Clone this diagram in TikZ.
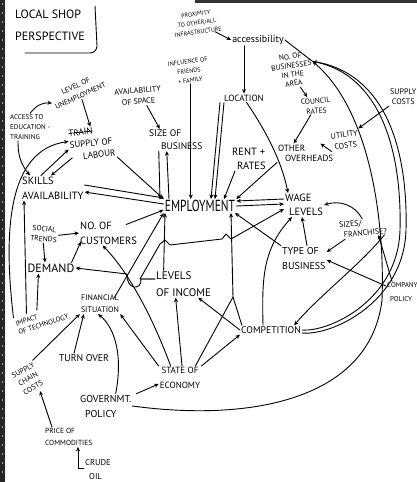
\documentclass[tikz,border=0pt]{standalone}
\usepackage{fontspec}
\setmainfont{PT Sans}
\newfontfamily\narrowfont{PT Sans}[FakeStretch=0.72]
\usetikzlibrary{arrows.meta,calc}

\newlength\strikelen
\newcommand\strikeword[1]{\settowidth{\strikelen}{#1}\rlap{\rule[0.3em]{\strikelen}{0.7pt}}#1}

\begin{document}
\begin{tikzpicture}[x=1pt, y=-1pt,
    lbl/.style={inner sep=1pt, align=center},
    fs/.style 2 args={font=\fontsize{#1}{#2}\selectfont},
    ln/.style={line width=0.9pt, line cap=round, line join=round},
    arr/.style={ln, -{Stealth[length=4.5pt,width=4pt]}}]

    \useasboundingbox (0,0) rectangle (417,482);
    \fill[white] (0,0) rectangle (417,482);

    % Edges of the scanned sheet
    \fill[black!85] (0,0) rectangle (5,482);
    \foreach \y in {4,13,...,472} \fill[white] (2.5,\y) circle (0.7);
    \fill[black!80] (195,0) rectangle (417,2.5);

    % Title
    \node[lbl, fs={12}{22}, align=left, anchor=west] (title) at (14,25) {LOCAL SHOP\\PERSPECTIVE};
    \draw[ln] (95,6) -- (97,46) to[out=-90,in=0] (90,53) -- (25,53);

    % Factors
    \node[lbl, fs={6}{9}, rotate=8] (prox) at (197,23) {PROXIMITY\\TO OTHER/ALL\\INFRASTRUCTURE};
    \node[lbl, fs={10}{12}] (access) at (258,40) {accessibility};
    \node[lbl, fs={6.2}{9.5}, rotate=8] (infl) at (189,71) {INFLUENCE OF\\FRIENDS\\+ FAMILY};
    \node[lbl, fs={8}{11}, rotate=5] (space) at (138,96) {AVAILABILITY\\OF SPACE};
    \node[lbl, fs={7.4}{11}, rotate=25] (unemp) at (78,91) {LEVEL OF\\UNEMPLOYMENT};
    \node[lbl, fs={7}{10}, align=left, anchor=west] (edu) at (9,127) {ACCESS TO\\EDUCATION -\\TRAINING};
    \node[lbl, fs={9}{12}, align=left, rotate=6] (labour) at (92,143) {\strikeword{TRAIN}\\SUPPLY OF\\\hspace*{12pt}LABOUR};
    \node[lbl, fs={9.5}{13}, align=left, anchor=west] (size) at (148,140) {SIZE OF\\\hspace*{12pt}BUSINESS};
    \node[lbl, fs={9}{12}] (location) at (244,98) {LOCATION};
    \node[lbl, fs={7.5}{9}, rotate=8] (nobus) at (292,70) {NO. OF\\BUSINESSES\\IN THE\\AREA};
    \node[lbl, fs={7.5}{10}, rotate=5] (council) at (316,106) {COUNCIL\\RATES};
    \node[lbl, fs={8}{10}, anchor=west] (supcost) at (389,97) {SUPPLY\\COSTS};
    \node[lbl, fs={8}{11}, rotate=8] (utility) at (345,140) {UTILITY\\COSTS};
    \node[lbl, fs={10.5}{14}, align=left, anchor=west] (rent) at (231,159) {RENT +\\\hspace*{5pt}RATES};
    \node[lbl, fs={9}{10}, align=left, anchor=west] (over) at (277,153) {OTHER\\\hspace*{7pt}OVERHEADS};
    \node[lbl, fs={10.5}{15}, align=left, anchor=west] (skills) at (21,188) {SKILLS\\AVAILABILITY};
    \node[lbl, font=\narrowfont\fontsize{16}{18}\selectfont] (employ) at (200,206) {EMPLOYMENT};
    \node[lbl, fs={10.5}{14}, align=left, anchor=west] (wage) at (284,205) {WAGE\\\hspace*{4pt}LEVELS};
    \node[lbl, fs={8}{10}, align=left, rotate=5] (sizes) at (363,228) {SIZES/\\\hspace*{4pt}FRANCHISE?};
    \node[lbl, fs={7.5}{10}, rotate=-5] (social) at (44,234) {SOCIAL\\TRENDS};
    \node[lbl, fs={10.5}{15}, align=left, anchor=west] (cust) at (79,233) {NO. OF\\CUSTOMERS};
    \node[lbl, fs={10}{15}, align=left, anchor=west] (type) at (281,258) {TYPE OF\\BUSINESS};
    \node[lbl, fs={12}{14}] (demand) at (51,268) {DEMAND};
    \node[lbl, fs={7}{14}, align=left, anchor=west] (policy) at (386,292) {COMPANY\\\hspace*{3pt}POLICY};
    \node[lbl, fs={11}{17}, align=left, anchor=west] (income) at (155,284) {LEVELS\\OF INCOME};
    \node[lbl, fs={8}{12}] (finance) at (100,304) {FINANCIAL\\SITUATION};
    \node[lbl, fs={7}{9}, align=left, rotate=18] (tech) at (42,320) {IMPACT\\OF TECHNOLOGY};
    \node[lbl, fs={9.7}{12}] (compet) at (271,330) {COMPETITION};
    \node[lbl, fs={9.8}{12}] (turn) at (84,358) {TURN OVER};
    \node[lbl, fs={7.5}{10}, rotate=30] (chain) at (28,379) {SUPPLY\\CHAIN\\COSTS};
    \node[lbl, fs={9}{15}] (economy) at (180,378) {STATE OF\\ECONOMY};
    \node[lbl, fs={10}{15}, align=left, anchor=west] (govt) at (79,406) {GOVERNMT.\\\hspace*{5pt}POLICY};
    \node[lbl, fs={7.4}{12}, align=left, anchor=west] (commod) at (44,437) {PRICE OF\\COMMODITIES};
    \node[lbl, fs={8.5}{14}, align=left, anchor=west] (crude) at (84,470) {CRUDE\\\hspace*{4pt}OIL};

    % Top of the map
    \draw[arr] ([xshift=-8pt]prox.south east) -- (access.west);
    \draw[arr] (location.north |- access.south) -- (location.north);
    \draw[ln] (access.east) -- (nobus.15);
    \draw[arr] ([xshift=6pt]nobus.south) -- ([xshift=-8pt]council.north);
    \draw[arr] ([xshift=-6pt]council.south) -- ([xshift=-12pt]over.north);
    \draw[arr] (supcost.south west) -- (utility.north east);
    \draw[arr] (utility.south west) -- ([xshift=-14pt]over.north east);
    \draw[arr] (location.-60) .. controls (272,140) and (283,168) .. ([xshift=4pt]wage.north west);
    \draw[arr] (over.south west) -- (employ.north east);
    \draw[arr] ([xshift=4pt]rent.south west) -- ([xshift=24pt]employ.north);
    \draw[arr] ([xshift=-3pt]location.south west) -- ([xshift=11pt]employ.north);
    \draw[arr] ([xshift=1pt]location.south west) -- ([xshift=15pt]employ.north);
    \draw[arr] (infl.south) -- (infl.south |- employ.north);
    \draw[arr] ([xshift=-17pt]size.south) -- ([xshift=-40pt]employ.north);
    \draw[arr] ([xshift=-31pt]employ.north) -- ([xshift=-9pt]size.south);
    \draw[arr] ([xshift=8pt]space.south) -- ([xshift=-16pt]size.north);

    % Labour and skills
    \draw[arr] (unemp.south) -- (labour.north);
    \draw[arr] (edu.north) to[bend left=30] (unemp.west);
    \draw[arr] ([xshift=9pt]edu.south west) to[bend right=20] ([xshift=9pt]skills.north west);
    \draw[arr] ([xshift=20pt]skills.north west) -- ([yshift=-4pt]labour.west);
    \draw[arr] ([xshift=2pt,yshift=4pt]labour.south west) -- ([xshift=30pt]skills.north west);
    \draw[arr] ([yshift=3pt]tech.north west) .. controls (3,230) and (8,150) .. ([yshift=4pt]labour.west);
    \draw[arr] (labour.south east) -- (employ.north west);
    \draw[arr] ([yshift=3pt]skills.east) -- ([yshift=8pt]employ.west);
    \draw[arr] ([yshift=2pt]employ.west) -- ([yshift=-4pt]skills.east);
    \draw[arr] ([yshift=3pt]$(tech.north west)!0.25!(tech.north east)$) -- ([xshift=3pt]skills.south west);
    \draw[arr] ([yshift=3pt]$(tech.north west)!0.45!(tech.north east)$) -- ([xshift=12pt]demand.south west);

    % Customers and demand
    \draw[arr] (social.east) -- (cust.west);
    \draw[arr] (social.south) -- ([xshift=-6pt]demand.north);
    \draw[arr] ([xshift=-4pt]demand.north east) -- ([xshift=2pt,yshift=4pt]cust.south west);
    \draw[arr] ([xshift=-12pt,yshift=-4pt]cust.north east) -- ([yshift=-4pt]employ.west);
    \draw[arr] ([yshift=5pt]income.west) -- (141,279) .. controls (142,291) and (126,290) .. (127,274) -- (demand.east);
    \draw[arr] ([yshift=5pt]income.west) -- (140,279) -- (160,244) -- (165,240) -- (170,245) -- (222,239) -- (226,234) -- (231,239) -- ([yshift=8pt]wage.south west);
    \draw[arr] ([xshift=-20pt]income.north) -- ([xshift=-35pt]employ.south);
    \draw[arr] ([xshift=-6pt,yshift=-4pt]finance.north east) -- (employ.south west);

    % State of economy
    \draw[arr] ([xshift=12pt]economy.north west) .. controls (150,310) and (125,268) .. ([xshift=-6pt]cust.south);
    \draw[arr] (economy.north west) -- (finance.south east);
    \draw[arr] ([xshift=2pt]economy.north) -- ([xshift=-8pt]income.south);
    \draw[arr] (economy.north east) -- (compet.south west);
    \draw[arr] ([xshift=-6pt]economy.north east) -- (233,297) -- ([xshift=31pt]employ.south);
    \draw[ln] ([xshift=2pt]compet.north west) -- (233,297);
    \draw[arr] ([xshift=-8pt]compet.north) .. controls (262,280) and (262,250) .. ([xshift=8pt]wage.south west);
    \draw[arr] (compet.west) -- ([xshift=-14pt]income.south east);

    % Type of business
    \draw[arr] (type.north west) -- ([xshift=35pt]employ.south);
    \draw[arr] ([xshift=26pt]type.north west) -- ([xshift=18pt]wage.south west);
    \draw[arr] (sizes.north) .. controls (355,205) and (340,200) .. (wage.east);
    \draw[arr] ([xshift=6pt]sizes.south west) -- ([yshift=6pt]type.east);
    \draw[arr] ([yshift=6pt]policy.west) -- ([yshift=-2pt]type.east);
    \draw[arr] ([xshift=6pt]policy.north west) -- ([xshift=-10pt]sizes.south east);
    \draw[arr] ([yshift=6pt]wage.west) -- ([yshift=5pt]employ.east);
    \draw[arr] (employ.east) -- ([yshift=1pt]wage.west);

    % Bottom of the map
    \draw[arr] ([xshift=4pt]govt.north east) -- ([yshift=6pt]economy.south west);
    \draw[arr] ([xshift=10pt]govt.north) .. controls (124,350) and (112,325) .. ([xshift=-2pt]finance.south);
    \draw[arr] ([xshift=-10pt]turn.north) -- ([xshift=4pt]finance.south west);
    \draw[arr] (chain.north east) -- (finance.south west);
    \draw[arr] ([xshift=8pt]commod.north west) -- ([xshift=5pt]chain.south);
    \draw[arr] ([yshift=2pt]crude.west) -| ([xshift=34pt]commod.south west);

    % Long loops on the right
    \draw[arr] (govt.east) .. controls (250,422) and (370,400) .. (382,300) .. controls (385,220) and (370,110) .. (nobus.15);
    \draw[arr] ([xshift=-4pt]sizes.south east) .. controls (360,265) and (320,295) .. ([xshift=-8pt]compet.north east);
    \draw[arr] (compet.east) .. controls (330,332) and (398,300) .. (400,230) .. controls (402,150) and (380,75) .. (nobus.15);
    \draw[ln] ([yshift=-3pt]compet.east) .. controls (332,336) and (404,302) .. (406,230) .. controls (408,150) and (386,72) .. (nobus.15);
\end{tikzpicture}
\end{document}
